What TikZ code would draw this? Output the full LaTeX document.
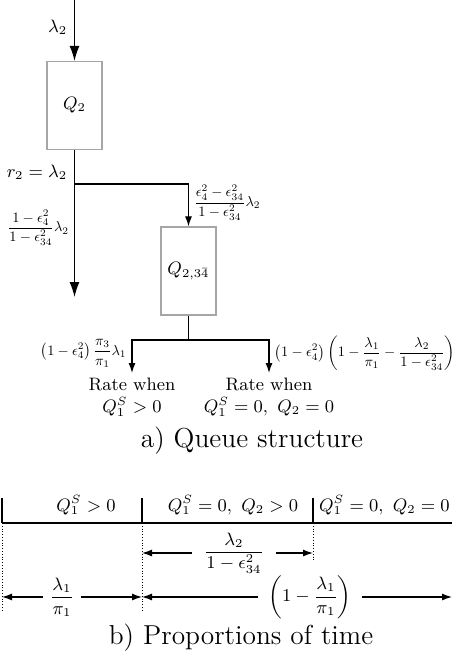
\documentclass[tikz,border=0pt]{standalone}
\usepackage{amsmath, amssymb}
\usepackage{graphicx}
\usetikzlibrary{arrows.meta}

\newcommand{\ratetext}[1]{\scalebox{0.72}{$\displaystyle #1$}}

\begin{document}
\begin{tikzpicture}[
    x=0.5pt, y=-0.5pt, font=\small,
    queue/.style={draw=black!35, semithick, rectangle, fill=white,
                  minimum width=27.5pt, minimum height=44pt, inner sep=0pt},
    bigflow/.style={semithick, -{Latex[length=7.5pt,width=5pt]}},
    flow/.style={semithick, -{Latex[length=5pt,width=3.5pt]}},
    rate/.style={font=\normalsize, inner sep=2.5pt},
    outcome/.style={font=\small, align=center, anchor=north, inner sep=2.5pt},
    guide/.style={thin, densely dotted},
    caption/.style={font=\fontsize{13.7}{16}\selectfont}
]
    \useasboundingbox (0,0) rectangle (452,662);

    % --- Queues ---
    \node[queue] (q2)   at (74.5,105.5) {$Q_2$};
    \node[queue] (q234) at (188.5,271)  {$Q_{2,3\bar{4}}$};

    % --- Flow into Q2 and split ---
    \coordinate (src)   at (74.5,0);
    \coordinate (split) at (74.5,184);
    \coordinate (stay)  at (74.5,297);

    \draw[bigflow] (src) -- (q2.north)
        node[pos=0.45, left] {$\lambda_2$};
    \draw[semithick] (q2.south) -- (split)
        node[pos=0.65, left] {$r_2 = \lambda_2$};
    \draw[bigflow] (split) -- (stay)
        node[pos=0.39, left, rate] {\ratetext{\frac{1-\epsilon_4^2}{1-\epsilon_{34}^2}\lambda_2}};
    \draw[flow] (split) -| (q234.north)
        node[pos=0.72, right, rate] {\ratetext{\frac{\epsilon_4^2-\epsilon_{34}^2}{1-\epsilon_{34}^2}\lambda_2}};

    % --- Outflow of Q_{2,34} ---
    \coordinate (fork) at (188.5,340);
    \coordinate (busy) at (132,373);
    \coordinate (idle) at (269,373);

    \draw[semithick] (q234.south) -- (fork);
    \draw[flow] (fork) -| (busy)
        node[pos=0.7, left, rate] {\ratetext{\left(1-\epsilon_4^2\right)\frac{\pi_3}{\pi_1}\lambda_1}};
    \draw[flow] (fork) -| (idle)
        node[pos=0.7, right, rate] {\ratetext{\left(1-\epsilon_4^2\right)\left(1-\frac{\lambda_1}{\pi_1}-\frac{\lambda_2}{1-\epsilon_{34}^2}\right)}};

    \node[outcome] (busytxt) at (busy) {Rate when\\$Q_1^S > 0$};
    \node[outcome] (idletxt) at (idle) {Rate when\\$Q_1^S = 0,\ Q_2 = 0$};

    \node[caption] (capa) at (252,441) {a) Queue structure};

    % --- Time line ---
    \coordinate (t0)   at (2,523);
    \coordinate (t1)   at (142,523);
    \coordinate (t2)   at (313,523);
    \coordinate (tend) at (452,523);

    \draw[semithick] (t0) -- (tend);
    \foreach \t in {t0,t1,t2}
        \draw[semithick] (\t) -- ++(0,-25);

    \node (per1) at (86,505)  {$Q_1^S > 0$};
    \node (per2) at (233,505) {$Q_1^S = 0,\ Q_2 > 0$};
    \node[anchor=east, inner sep=1pt] (per3) at (452,505) {$Q_1^S = 0,\ Q_2 = 0$};

    % --- Guides ---
    \coordinate (d0) at (2,612);
    \coordinate (d1) at (142,612);
    \coordinate (d2) at (313,562);
    \draw[guide] (t0) -- (d0);
    \draw[guide] (t1) -- (d1);
    \draw[guide] (t2) -- (d2);

    % --- Durations ---
    \node[inner sep=6pt] (q2frac) at (234,553) {$\dfrac{\lambda_2}{1-\epsilon_{34}^2}$};
    \draw[flow] (q2frac) -- (t1 |- q2frac);
    \draw[flow] (q2frac) -- (t2 |- q2frac);

    \node (busyfrac) at (62,597) {$\dfrac{\lambda_1}{\pi_1}$};
    \draw[flow] (busyfrac) -- (t0 |- busyfrac);
    \draw[flow] (busyfrac) -- (t1 |- busyfrac);

    \node[inner sep=5pt] (idlefrac) at (310,597) {$\left(1-\dfrac{\lambda_1}{\pi_1}\right)$};
    \draw[flow] (idlefrac) -- (t1 |- idlefrac);
    \draw[flow] (idlefrac) -- (tend |- idlefrac);

    \node[caption] (capb) at (241,638) {b) Proportions of time};
\end{tikzpicture}
\end{document}
